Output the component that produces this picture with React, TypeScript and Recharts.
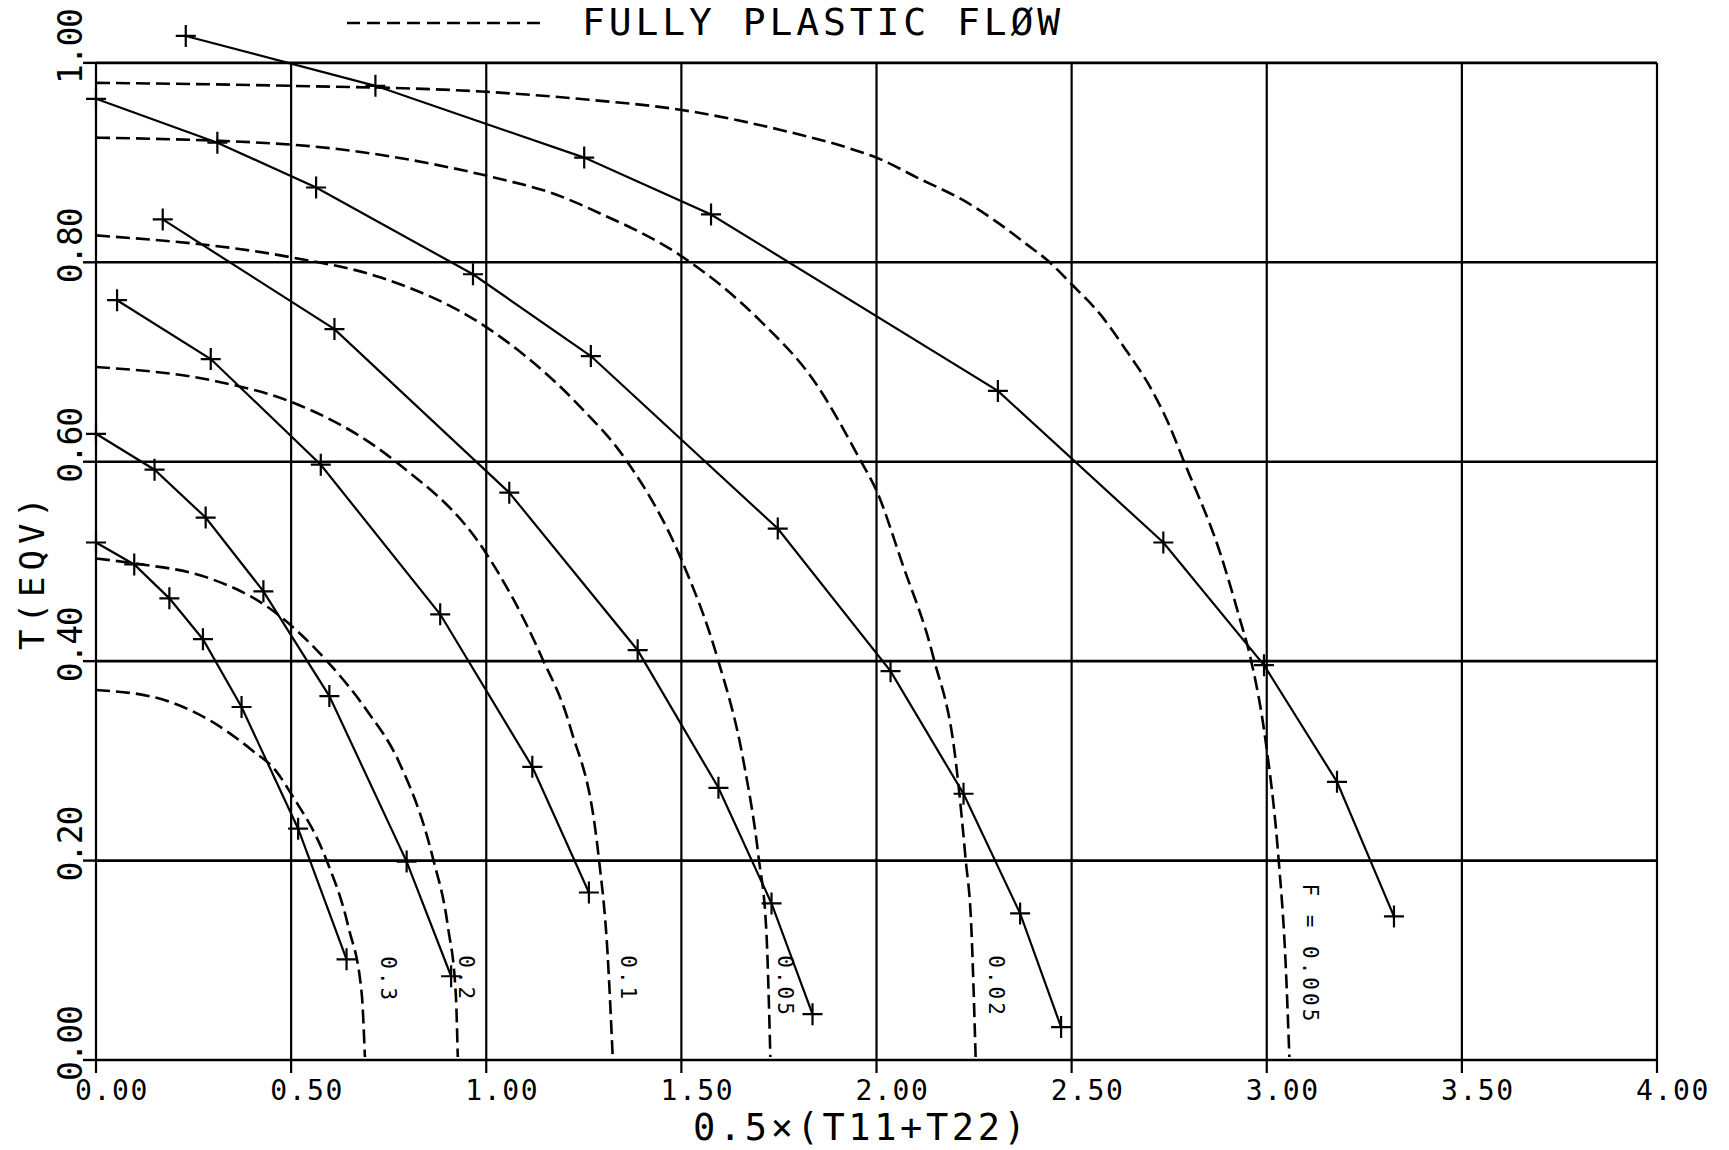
import { ComposedChart, Line, Scatter, XAxis, YAxis, ReferenceLine, Legend, Label } from "recharts";

const xTicks = [0, 0.5, 1, 1.5, 2, 2.5, 3, 3.5, 4];
const yTicks = [0, 0.2, 0.4, 0.6, 0.8, 1.0];

// solid lines with + markers, one per F value
const f005 = [
  { x: 0.23, y: 1.027 }, { x: 0.716, y: 0.977 }, { x: 1.251, y: 0.905 }, { x: 1.576, y: 0.848 },
  { x: 2.311, y: 0.671 }, { x: 2.735, y: 0.519 }, { x: 2.993, y: 0.396 }, { x: 3.18, y: 0.279 },
  { x: 3.326, y: 0.144 },
];
const f02 = [
  { x: 0, y: 0.964 }, { x: 0.311, y: 0.92 }, { x: 0.564, y: 0.875 }, { x: 0.966, y: 0.788 },
  { x: 1.268, y: 0.706 }, { x: 1.747, y: 0.533 }, { x: 2.036, y: 0.39 }, { x: 2.223, y: 0.267 },
  { x: 2.368, y: 0.147 }, { x: 2.473, y: 0.033 },
];
const f05 = [
  { x: 0.171, y: 0.843 }, { x: 0.611, y: 0.733 }, { x: 1.059, y: 0.569 }, { x: 1.388, y: 0.411 },
  { x: 1.595, y: 0.273 }, { x: 1.731, y: 0.157 }, { x: 1.836, y: 0.046 },
];
const f1 = [
  { x: 0.054, y: 0.762 }, { x: 0.294, y: 0.703 }, { x: 0.576, y: 0.597 }, { x: 0.882, y: 0.447 },
  { x: 1.118, y: 0.294 }, { x: 1.263, y: 0.168 },
];
const f2 = [
  { x: 0, y: 0.628 }, { x: 0.15, y: 0.592 }, { x: 0.281, y: 0.544 }, { x: 0.429, y: 0.47 },
  { x: 0.598, y: 0.365 }, { x: 0.796, y: 0.199 }, { x: 0.91, y: 0.084 },
];
const f3 = [
  { x: 0, y: 0.519 }, { x: 0.098, y: 0.497 }, { x: 0.188, y: 0.463 }, { x: 0.274, y: 0.422 },
  { x: 0.373, y: 0.354 }, { x: 0.518, y: 0.232 }, { x: 0.642, y: 0.101 },
];

// dashed fully plastic flow curves
const pf005 = [
  { x: 0, y: 0.98 }, { x: 0.5, y: 0.977 }, { x: 1, y: 0.971 }, { x: 1.264, y: 0.963 },
  { x: 1.497, y: 0.953 }, { x: 1.752, y: 0.933 }, { x: 1.933, y: 0.914 }, { x: 2, y: 0.905 },
  { x: 2.104, y: 0.885 }, { x: 2.232, y: 0.86 }, { x: 2.317, y: 0.838 }, { x: 2.385, y: 0.818 },
  { x: 2.441, y: 0.801 }, { x: 2.5, y: 0.778 }, { x: 2.573, y: 0.748 }, { x: 2.641, y: 0.711 },
  { x: 2.701, y: 0.675 }, { x: 2.752, y: 0.635 }, { x: 2.786, y: 0.602 }, { x: 2.881, y: 0.508 },
  { x: 2.932, y: 0.441 }, { x: 2.958, y: 0.404 }, { x: 2.997, y: 0.32 }, { x: 3.03, y: 0.203 },
  { x: 3.048, y: 0.1 }, { x: 3.058, y: 0.003 },
];
const pf02 = [
  { x: 0, y: 0.925 }, { x: 0.5, y: 0.918 }, { x: 1, y: 0.887 }, { x: 1.053, y: 0.882 },
  { x: 1.164, y: 0.87 }, { x: 1.292, y: 0.849 }, { x: 1.497, y: 0.807 }, { x: 1.703, y: 0.741 },
  { x: 1.84, y: 0.681 }, { x: 1.958, y: 0.602 }, { x: 2, y: 0.571 }, { x: 2.066, y: 0.498 },
  { x: 2.145, y: 0.405 }, { x: 2.203, y: 0.3 }, { x: 2.228, y: 0.203 }, { x: 2.243, y: 0.133 },
  { x: 2.254, y: 0.003 },
];
const pf05 = [
  { x: 0, y: 0.827 }, { x: 0.5, y: 0.805 }, { x: 0.728, y: 0.785 }, { x: 1, y: 0.735 },
  { x: 1.241, y: 0.655 }, { x: 1.356, y: 0.603 }, { x: 1.501, y: 0.501 }, { x: 1.591, y: 0.405 },
  { x: 1.659, y: 0.3 }, { x: 1.698, y: 0.203 }, { x: 1.718, y: 0.127 }, { x: 1.728, y: 0.003 },
];
const pf1 = [
  { x: 0, y: 0.695 }, { x: 0.304, y: 0.681 }, { x: 0.5, y: 0.66 }, { x: 0.765, y: 0.601 },
  { x: 1, y: 0.508 }, { x: 1.141, y: 0.405 }, { x: 1.215, y: 0.334 }, { x: 1.288, y: 0.204 },
  { x: 1.311, y: 0.106 }, { x: 1.324, y: 0.003 },
];
const pf2 = [
  { x: 0, y: 0.503 }, { x: 0.098, y: 0.498 }, { x: 0.284, y: 0.484 }, { x: 0.441, y: 0.454 },
  { x: 0.592, y: 0.4 }, { x: 0.695, y: 0.35 }, { x: 0.775, y: 0.3 }, { x: 0.863, y: 0.203 },
  { x: 0.902, y: 0.133 }, { x: 0.922, y: 0.066 }, { x: 0.927, y: 0.003 },
];
const pf3 = [
  { x: 0, y: 0.371 }, { x: 0.147, y: 0.364 }, { x: 0.294, y: 0.34 }, { x: 0.402, y: 0.31 },
  { x: 0.461, y: 0.29 }, { x: 0.5, y: 0.267 }, { x: 0.588, y: 0.203 }, { x: 0.647, y: 0.133 },
  { x: 0.681, y: 0.066 }, { x: 0.689, y: 0.003 },
];

const curveLabels = [
  { x: 0.731, y: 0.104, text: "0.3" },
  { x: 0.931, y: 0.105, text: "0.2" },
  { x: 1.345, y: 0.105, text: "0.1" },
  { x: 1.747, y: 0.105, text: "0.05" },
  { x: 2.287, y: 0.105, text: "0.02" },
  { x: 3.092, y: 0.177, text: "F = 0.005" },
];

const solidSeries = [f005, f02, f05, f1, f2, f3];
const dashedSeries = [pf005, pf02, pf05, pf1, pf2, pf3];

const FONT = "'DejaVu Sans Mono', monospace";

const cross = (p: any) => {
  const { cx, cy, index } = p;
  if (cx == null || cy == null) return <g key={index} />;
  return (
    <path key={index} d={`M${cx - 10},${cy}H${cx + 10}M${cx},${cy - 11}V${cy + 11}`}
      stroke="#000" strokeWidth={2.2} fill="none" />
  );
};

const YTick = ({ x, y, payload }: any) => {
  const bx = x + 1, by = y + 21;
  return (
    <text x={bx} y={by} transform={`rotate(-90 ${bx} ${by})`} fontFamily={FONT}
      fontSize={33} letterSpacing={-1.2} fill="#000">{payload.value.toFixed(2)}</text>
  );
};

const XTick = ({ x, y, payload }: any) => (
  <text x={x + 16} y={y + 25} textAnchor="middle" fontFamily={FONT}
    fontSize={28} letterSpacing={1.6} fill="#000">{payload.value.toFixed(2)}</text>
);

const curveLabel = (p: any) => {
  const { cx, cy } = p;
  const text = p.payload?.text ?? p.text;
  return (
    <text x={cx} y={cy} transform={`rotate(90 ${cx} ${cy})`} fontFamily={FONT}
      fontSize={21} letterSpacing={3} fill="#000">{text}</text>
  );
};

const TitleLegend = () => (
  <svg width={760} height={44}>
    <line x1={17} y1={23} x2={213} y2={23} stroke="#000" strokeWidth={2.6} strokeDasharray="13 7" />
    <text x={252} y={35} fontFamily={FONT} fontSize={38} letterSpacing={3.9} fill="#000">FULLY PLASTIC FLØW</text>
  </svg>
);

export default function App() {
  return (
    <div style={{ position: "absolute", left: 0, top: 0, width: 1729, height: 1150, background: "#fff" }}>
      <ComposedChart width={1729} height={1150} margin={{ top: 23, right: 72, bottom: 30, left: 36 }}>
        <XAxis type="number" dataKey="x" domain={[0, 4]} ticks={xTicks} interval={0} height={60}
          tickSize={13} axisLine={{ stroke: "#000", strokeWidth: 2.6 }}
          tickLine={{ stroke: "#000", strokeWidth: 2.2 }} tick={<XTick />}>
          <Label content={() => (
            <text x={693} y={1140} fontFamily={FONT} fontSize={37} letterSpacing={3.6} fill="#000">0.5×(T11+T22)</text>
          )} />
        </XAxis>
        <YAxis type="number" dataKey="y" domain={[0, 1.04]} ticks={yTicks} interval={0} width={60}
          tickSize={13} axisLine={false} tickLine={{ stroke: "#000", strokeWidth: 2.4 }} tick={<YTick />}>
          <Label content={() => (
            <text x={44} y={650} transform="rotate(-90 44 650)" fontFamily={FONT} fontSize={34}
              letterSpacing={6} fill="#000">T(EQV)</text>
          )} />
        </YAxis>
        <Legend verticalAlign="middle" align="center" layout="horizontal"
          wrapperStyle={{ top: 0, left: 330, width: 760, height: 44 }} content={() => <TitleLegend />} />
        {yTicks.filter((v) => v > 0).map((v) => (
          <ReferenceLine key={`h${v}`} y={v} stroke="#000" strokeWidth={2.6} />
        ))}
        {xTicks.map((v) => (
          <ReferenceLine key={`v${v}`} segment={[{ x: v, y: 0 }, { x: v, y: 1 }]} stroke="#000" strokeWidth={2.2} />
        ))}
        {dashedSeries.map((d, i) => (
          <Line key={`p${i}`} data={d} dataKey="y" type="monotone" stroke="#000" strokeWidth={2.6}
            strokeDasharray="14 6" dot={false} activeDot={false} isAnimationActive={false} />
        ))}
        {solidSeries.map((d, i) => (
          <Line key={`s${i}`} data={d} dataKey="y" type="linear" stroke="#000" strokeWidth={2.2}
            dot={cross} activeDot={false} isAnimationActive={false} />
        ))}
        <Scatter data={curveLabels} dataKey="y" shape={curveLabel} isAnimationActive={false} />
      </ComposedChart>
    </div>
  );
}
